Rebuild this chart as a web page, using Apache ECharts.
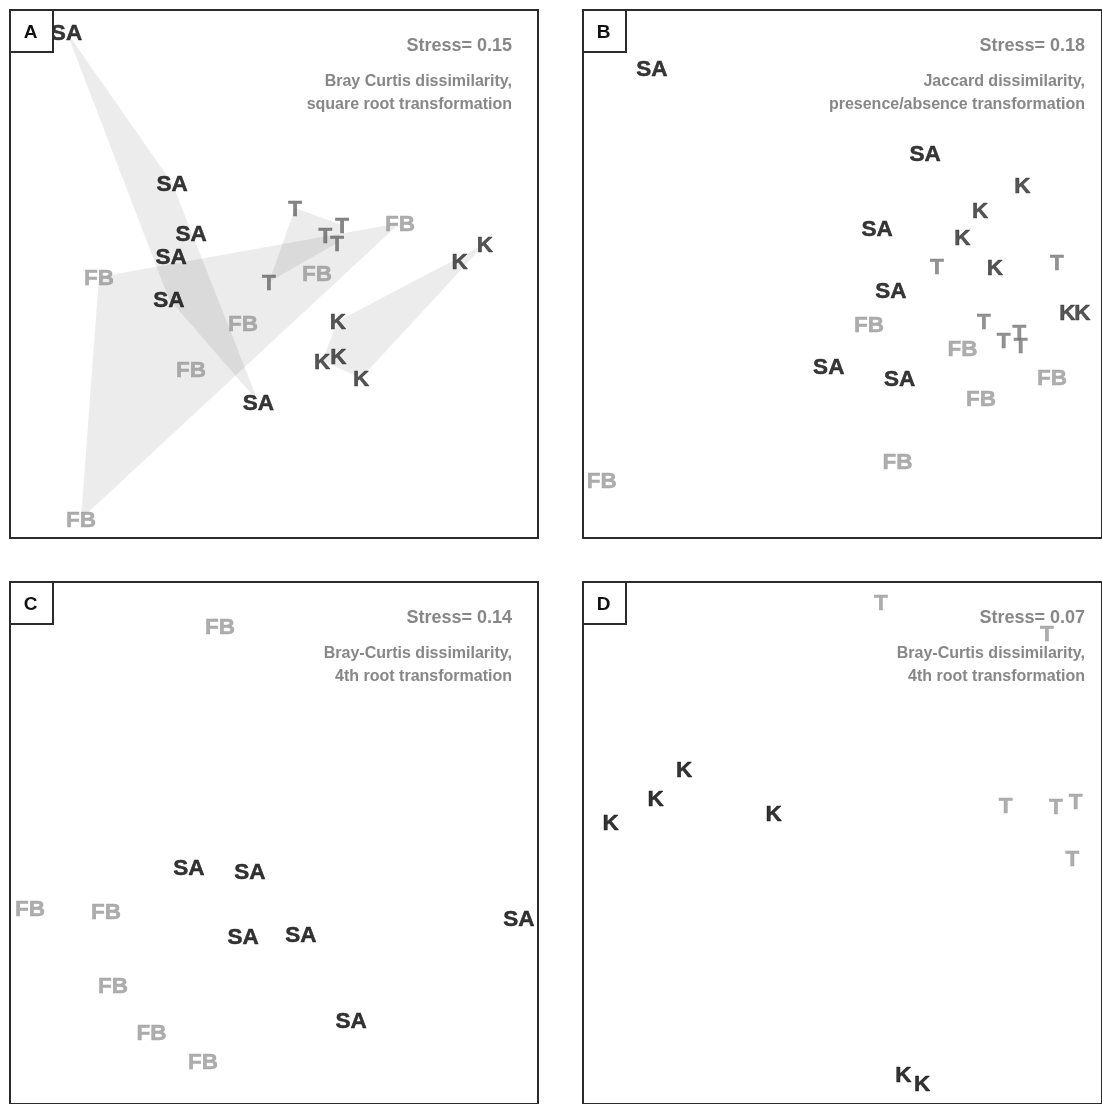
<!DOCTYPE html>
<html>
<head>
<meta charset="utf-8">
<script src="https://cdn.jsdelivr.net/npm/echarts@6/dist/echarts.min.js"></script>
<style>
  html, body { margin: 0; padding: 0; background: #fff; }
  #chart { width: 1102px; height: 1104px; }
</style>
</head>
<body>
<div id="chart"></div>
<script>
// NMDS site scores [axis 1, axis 2] for each panel and site group

// Panel A: Bray Curtis, square root
const aSA = [[-0.786, 0.918], [-0.386, 0.345], [-0.314, 0.155], [-0.390, 0.068], [-0.398, -0.095], [-0.059, -0.485]];
const aFB = [[-0.663, -0.011], [-0.117, -0.186], [-0.314, -0.360], [-0.731, -0.928], [0.163, 0.004], [0.477, 0.193]];
const aT  = [[0.080, 0.250], [0.195, 0.148], [0.258, 0.186], [0.239, 0.117], [-0.019, -0.030]];
const aK  = [[0.703, 0.049], [0.799, 0.114], [0.242, -0.178], [0.182, -0.330], [0.244, -0.311], [0.330, -0.394]];

// Panel B: Jaccard, presence/absence
const bSA = [[-0.735, 0.780], [0.318, 0.458], [0.133, 0.174], [0.186, -0.061], [-0.053, -0.348], [0.220, -0.394]];
const bK  = [[0.693, 0.337], [0.530, 0.242], [0.462, 0.140], [0.587, 0.027], [0.867, -0.144], [0.924, -0.144]];
const bT  = [[0.364, 0.030], [0.826, 0.045], [0.545, -0.178], [0.621, -0.250], [0.682, -0.220], [0.686, -0.269]];
const bFB = [[0.102, -0.189], [0.462, -0.280], [0.807, -0.390], [0.534, -0.470], [0.212, -0.708], [-0.928, -0.780]];

// Panel C: Bray-Curtis, 4th root (SA vs FB)
const cFB = [[-0.205, 0.833], [-0.924, -0.250], [-0.636, -0.261], [-0.610, -0.545], [-0.464, -0.723], [-0.269, -0.833]];
const cSA = [[-0.322, -0.091], [-0.091, -0.106], [-0.117, -0.354], [0.102, -0.348], [0.928, -0.288], [0.292, -0.678]];

// Panel D: Bray-Curtis, 4th root (K vs T)
const dT = [[0.148, 0.924], [0.788, 0.807], [0.629, 0.148], [0.822, 0.144], [0.898, 0.163], [0.886, -0.057]];
const dK = [[-0.610, 0.284], [-0.720, 0.174], [-0.894, 0.080], [-0.265, 0.117], [0.235, -0.886], [0.307, -0.920]];

const panelLetters = ['A', 'B', 'C', 'D'];
const stressValues = ['0.15', '0.18', '0.14', '0.07'];
const methodLines = [
  ['Bray Curtis dissimilarity,', 'square root transformation'],
  ['Jaccard dissimilarity,', 'presence/absence transformation'],
  ['Bray-Curtis dissimilarity,', '4th root transformation'],
  ['Bray-Curtis dissimilarity,', '4th root transformation']
];

// Panel frames (px) and text colours per group
const FONT = '"Liberation Sans", Arial, sans-serif';
const SIDE = 528;
const frames = [
  { left: 10, top: 10 },
  { left: 583, top: 10 },
  { left: 10, top: 582 },
  { left: 583, top: 582 }
];
const panelGroups = [
  [['SA', aSA, '#050505'], ['FB', aFB, '#999'], ['T', aT, '#666'], ['K', aK, '#2a2a2a']],
  [['SA', bSA, '#050505'], ['K', bK, '#2a2a2a'], ['T', bT, '#777'], ['FB', bFB, '#999']],
  [['FB', cFB, '#999'], ['SA', cSA, '#000']],
  [['T', dT, '#999'], ['K', dK, '#000']]
];

// Convex hull (monotone chain) used for the group envelopes in panel A
function convexHull(points) {
  const p = points.slice().sort((a, b) => a[0] - b[0] || a[1] - b[1]);
  const cross = (o, a, b) => (a[0] - o[0]) * (b[1] - o[1]) - (a[1] - o[1]) * (b[0] - o[0]);
  const lower = [], upper = [];
  for (const q of p) {
    while (lower.length >= 2 && cross(lower[lower.length - 2], lower[lower.length - 1], q) <= 0) lower.pop();
    lower.push(q);
  }
  for (let i = p.length - 1; i >= 0; i--) {
    const q = p[i];
    while (upper.length >= 2 && cross(upper[upper.length - 2], upper[upper.length - 1], q) <= 0) upper.pop();
    upper.push(q);
  }
  upper.pop(); lower.pop();
  return lower.concat(upper);
}
const hullsA = [aSA, aFB, aT, aK].map(convexHull);

const grid = [], xAxis = [], yAxis = [], series = [], graphic = [];

frames.forEach((f, i) => {
  grid.push({
    left: f.left, top: f.top, width: SIDE, height: SIDE,
    show: true, borderColor: '#2b2b2b', borderWidth: 2, backgroundColor: 'transparent'
  });
  xAxis.push({ type: 'value', gridIndex: i, min: -1, max: 1, show: false });
  yAxis.push({ type: 'value', gridIndex: i, min: -1, max: 1, show: false });

  panelGroups[i].forEach(([name, pts, color]) => {
    series.push({
      type: 'scatter', name, xAxisIndex: i, yAxisIndex: i,
      data: pts, symbolSize: 1, z: 3, silent: true,
      itemStyle: { color: 'rgba(0,0,0,0)' },
      label: {
        show: true, position: 'inside', formatter: name, offset: [0, 2],
        color, fontFamily: FONT, fontWeight: 'bold', fontSize: 22.5,
        textBorderColor: color, textBorderWidth: 0.5,
        align: 'center', verticalAlign: 'middle'
      },
      emphasis: { disabled: true }
    });
  });

  // stress value and method note
  const rightX = f.left + 502;
  graphic.push({
    type: 'text', z: 50, silent: true,
    style: {
      text: 'Stress= ' + stressValues[i], x: rightX, y: f.top + 36,
      textAlign: 'right', textVerticalAlign: 'middle',
      font: 'bold 18px ' + FONT, fill: '#878787'
    }
  });
  methodLines[i].forEach((line, k) => {
    graphic.push({
      type: 'text', z: 50, silent: true,
      style: {
        text: line, x: rightX, y: f.top + 72 + k * 22.5,
        textAlign: 'right', textVerticalAlign: 'middle',
        font: 'bold 16px ' + FONT, fill: '#878787'
      }
    });
  });

  // panel letter box
  graphic.push({
    type: 'rect', z: 100, silent: true,
    shape: { x: f.left, y: f.top, width: 43, height: 42 },
    style: { fill: '#fff', stroke: '#2b2b2b', lineWidth: 2 }
  });
  graphic.push({
    type: 'text', z: 101, silent: true,
    style: {
      text: panelLetters[i], x: f.left + 20.5, y: f.top + 22.5,
      textAlign: 'center', textVerticalAlign: 'middle',
      font: 'bold 19px ' + FONT, fill: '#111'
    }
  });
});

// group envelopes in panel A
series.push({
  type: 'custom', xAxisIndex: 0, yAxisIndex: 0, z: 1, silent: true,
  data: hullsA.map(h => h[0]),
  renderItem(params, api) {
    const pts = hullsA[params.dataIndex].map(p => api.coord(p));
    return {
      type: 'polygon',
      shape: { points: pts },
      style: { fill: 'rgba(0,0,0,0.075)', stroke: 'none' }
    };
  }
});

const chart = echarts.init(document.getElementById('chart'), null, { renderer: 'canvas' });
chart.setOption({
  animation: false,
  backgroundColor: '#fff',
  grid, xAxis, yAxis, series, graphic
});
</script>
</body>
</html>
